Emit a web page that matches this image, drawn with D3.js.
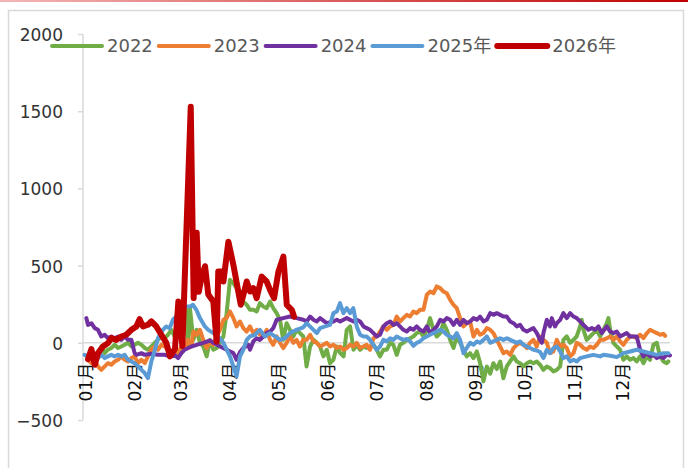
<!DOCTYPE html>
<html><head><meta charset="utf-8">
<script src="https://cdn.jsdelivr.net/npm/d3@7"></script>
<style>html,body{margin:0;padding:0;background:#fff;}svg{display:block;}</style>
</head><body><svg id="chart" width="688" height="468"></svg>
<script>
// ---- data (x = day of year, y = value) ----
const seriesNames = ["2022","2023","2024","2025年","2026年"];
const monthLabels = ["01月","02月","03月","04月","05月","06月","07月","08月","09月","10月","11月","12月"];
const monthStartDays = [0,31,59,90,120,151,181,212,243,273,304,334];
const yTicks = [-500,0,500,1000,1500,2000];

const s2022 = [[7.3,-88],[9.3,-78],[11.4,-24],[13.5,-67],[15.5,-45],[17.6,-34],[19.7,-13],[21.8,-34],[23.8,-24],[25.9,-13],[28,0],[30.1,-24],[32.1,-13],[34.2,0],[36.3,-13],[38.4,-34],[40.4,-45],[42.5,-24],[44.6,0],[46.6,19],[48.7,41],[50.8,30],[52.9,52],[54.9,84],[57,41],[59.1,127],[61.2,170],[63.2,84],[64.3,214],[65.3,-24],[66.5,224],[68.6,19],[70.7,84],[72.7,0],[74.8,-24],[76.9,-88],[79,19],[81,-45],[83.1,-34],[85.2,0],[87.3,41],[89.3,192],[91.4,408],[93.5,386],[95.5,354],[97.6,332],[99.7,267],[101.8,246],[103.8,214],[105.9,214],[108,203],[110,257],[112.1,235],[114.2,224],[116.3,267],[118.3,224],[120.4,192],[122.5,149],[124.5,19],[126.6,127],[128.7,84],[130.8,41],[132.8,84],[134.9,63],[137,41],[139,-153],[141.2,-24],[143.3,19],[145.4,0],[147.4,-24],[149.5,-88],[151.6,-45],[153.6,-132],[155.7,-110],[157.8,-24],[159.9,-67],[162,-88],[164,84],[166.1,106],[168.2,-45],[170.2,-13],[172.3,-45],[174.4,-24],[176.4,-34],[178.5,-24],[180.6,-13],[182.6,-45],[184.7,-88],[186.8,-45],[188.9,-45],[191,0],[193,-13],[195.1,-78],[197.1,-13],[199.2,0],[201.3,19],[203.4,30],[205.4,41],[207.5,63],[209.6,73],[211.7,41],[213.8,84],[215.8,160],[217.9,84],[220,41],[222.1,63],[224.1,127],[226.2,84],[228.3,19],[230.4,-34],[232.4,41],[234.5,0],[236.6,-45],[238.6,-88],[240.7,-67],[242.8,-99],[244.9,-56],[246.9,-130],[249,-250],[251.1,-153],[253.2,-200],[255.2,-132],[257.3,-170],[259.4,-121],[261.4,-230],[263.5,-153],[265.6,-121],[267.7,-88],[269.7,-121],[271.8,-132],[273.9,-153],[276,-132],[278,-121],[280.1,-132],[282.1,-121],[284.2,-142],[286.3,-175],[288.4,-153],[290.4,-164],[292.5,-185],[294.6,-175],[296.7,-153],[298.7,19],[300.8,41],[302.9,0],[305,19],[307,41],[309.1,106],[310.1,149],[311.2,84],[313.2,19],[315.3,41],[317.4,63],[319.5,84],[321.5,41],[323.6,84],[325.7,127],[326.7,160],[327.8,84],[329.8,0],[331.9,-24],[334,-45],[336,-110],[338.1,-88],[340.2,-110],[342.3,-99],[344.3,-121],[346.4,-88],[348.5,-132],[350.6,-88],[352.6,-110],[354.7,-13],[356.8,0],[358.8,-88],[360.9,-121],[363,-132],[364,-121]];

const s2023 = [[3.1,-110],[5.2,-132],[7.3,-110],[9.3,-153],[11.4,-175],[13.5,-153],[15.5,-132],[17.6,-142],[19.7,-121],[21.8,-110],[23.8,-88],[25.9,-110],[28,-121],[30.1,-99],[32.1,-88],[34.2,-132],[36.3,-110],[38.4,-132],[40.4,-88],[42.5,-45],[44.6,-24],[46.6,-45],[48.7,-13],[50.8,-24],[52.9,-45],[54.9,-78],[57,-45],[59.1,-67],[61.2,-24],[63.2,-34],[65.3,19],[67.4,-24],[68.6,73],[70.7,52],[72.7,84],[74.8,19],[76.9,-34],[79,9],[81,-13],[83.1,41],[85.2,84],[87.3,149],[89.3,160],[91.4,203],[93.5,160],[95.5,106],[97.6,138],[99.7,95],[101.8,73],[103.8,106],[105.9,63],[108,84],[110,52],[112.1,41],[114.2,84],[116.3,19],[118.3,-13],[120.4,41],[122.5,0],[124.5,-34],[126.6,0],[128.7,41],[130.8,0],[132.8,19],[134.9,-24],[137,20],[139.1,19],[141.2,52],[143.3,9],[145.4,0],[147.4,-24],[149.5,-13],[151.6,0],[153.6,-24],[155.7,-13],[157.8,-34],[159.9,-24],[162,-45],[164,-34],[166.1,-13],[168.2,-24],[170.2,0],[172.3,-34],[174.4,-24],[176.4,-13],[178.5,-45],[180.6,30],[182.6,41],[184.7,73],[186.8,106],[188.9,84],[191,106],[193,116],[195.1,170],[197.1,138],[199.2,160],[201.3,181],[203.4,170],[205.4,203],[207.5,192],[209.6,214],[211.7,214],[213.8,311],[215.8,332],[217.9,321],[220,365],[222.1,354],[224.1,332],[226.2,321],[228.3,278],[230.4,246],[232.4,224],[234.5,160],[236.6,106],[238.6,127],[240.7,138],[242.8,41],[244.9,84],[246.9,52],[249,63],[251.1,95],[253.2,84],[255.2,63],[257.3,19],[259.4,-24],[261.4,-67],[263.5,-56],[265.6,-78],[267.7,-34],[269.7,-13],[271.8,0],[273.9,-13],[276,-34],[278,0],[280.1,19],[282.1,-24],[284.2,41],[286.3,19],[288.4,0],[290.4,-67],[292.5,-56],[294.6,19],[296.7,-24],[298.7,-13],[300.8,-34],[302.9,-88],[305,-67],[307,0],[309.1,-13],[311.2,-34],[313.2,-45],[315.3,-24],[317.4,-34],[319.5,-13],[321.5,19],[323.6,19],[325.7,30],[327.8,41],[329.8,19],[331.9,41],[334,9],[336,-13],[338.1,19],[340.2,41],[342.3,41],[344.3,30],[346.4,52],[348.5,30],[350.6,63],[352.6,84],[354.7,73],[356.8,63],[358.8,52],[360.9,58],[362,45]];

const s2024 = [[2.1,160],[3.1,116],[5.2,127],[7.3,95],[9.3,84],[11.4,41],[13.5,52],[15.5,30],[17.6,41],[19.7,30],[21.8,41],[23.8,19],[25.9,41],[28,19],[30.1,19],[32.1,-67],[33.2,-78],[36.3,-67],[38.4,-78],[42.5,-71],[46.6,-78],[50.8,-78],[53.9,-88],[57,-78],[59.1,-99],[61.2,-67],[63.2,-45],[67.4,-24],[70.7,-13],[74.8,0],[79,15],[81,0],[85.2,-24],[89.3,-45],[93.5,-67],[95.5,-110],[97.6,-60],[99.7,-34],[102.8,-13],[103.8,-45],[105.9,9],[108,30],[110,19],[112.1,41],[114.2,63],[116.3,73],[118.3,95],[120.4,149],[124.5,160],[128.7,170],[132.8,160],[137,149],[139.1,138],[141.2,170],[143.3,149],[145.4,138],[147.4,160],[151.6,127],[155.7,138],[157.8,149],[159.9,138],[162,149],[164,160],[168.2,138],[170.2,149],[172.3,138],[174.4,106],[176.4,95],[178.5,84],[180.6,63],[182.6,41],[184.7,52],[186.8,106],[188.9,127],[191,138],[193,116],[195.1,127],[197.1,106],[199.2,84],[201.3,73],[203.4,95],[205.4,84],[207.5,106],[209.6,84],[211.7,73],[213.8,106],[215.8,63],[217.9,84],[220,106],[222.1,149],[224.1,138],[226.2,160],[228.3,149],[230.4,116],[232.4,149],[234.5,116],[236.6,149],[238.6,127],[240.7,138],[242.8,160],[244.9,149],[246.9,170],[249,138],[251.1,149],[253.2,192],[255.2,181],[257.3,192],[259.4,181],[261.4,170],[263.5,170],[265.6,138],[267.7,127],[269.7,106],[271.8,116],[273.9,84],[276,73],[278,84],[280.1,95],[282.2,63],[284.2,19],[285.3,0],[286.3,63],[288.4,149],[290.4,106],[291.5,160],[293.5,106],[294.6,127],[296.7,149],[298.7,192],[300.8,160],[302.9,192],[305,170],[307,160],[310.1,127],[312.2,106],[314.3,84],[316.4,95],[318.4,84],[320.5,106],[322.6,63],[325.7,106],[327.8,73],[329.8,63],[331.9,73],[334,41],[338.1,63],[340.2,41],[344.3,41],[346.4,-45],[348.5,-88],[350.6,-67],[352.6,-88],[354.7,-78],[356.8,-99],[358.8,-88],[360.9,-99],[363,-78],[365,-82]];

const s2025 = [[1,-78],[3.1,-88],[5.2,-78],[7.3,-110],[9.3,-99],[11.4,-78],[13.5,-99],[15.5,-88],[17.6,-78],[19.7,-88],[21.8,-78],[23.8,-88],[25.9,-78],[28,-110],[30.1,-121],[32.1,-132],[34.2,-153],[36.3,-175],[38.4,-196],[40.4,-229],[42.5,-120],[44.6,-50],[46.6,30],[49.7,84],[51.8,106],[53.9,95],[55.9,149],[58,170],[60.1,214],[63.2,235],[66.4,235],[68.4,246],[70.5,214],[72.7,160],[75.8,106],[77.9,84],[81,63],[84.1,41],[87.3,0],[91.4,-88],[93.5,-153],[95.5,-218],[97.6,-88],[99.7,-45],[101.8,19],[103.8,41],[106.9,52],[110,84],[113.1,41],[116.3,63],[119.4,41],[122.5,19],[125.6,30],[128.7,63],[132.8,84],[137,100],[139.1,127],[142.2,95],[145.4,63],[147.4,95],[150.5,106],[153.6,116],[155.7,192],[157.8,203],[159.8,257],[161.9,192],[164,224],[166.1,192],[168.1,224],[170.2,106],[172.3,52],[174.4,41],[176.4,41],[178.5,19],[180.6,-13],[182.6,-45],[184.7,-24],[186.8,19],[188.9,9],[191,30],[193,19],[195.1,41],[197.1,30],[199.2,19],[201.3,25],[203.4,10],[205.5,-20],[207.5,0],[209.6,9],[211.7,30],[213.8,41],[215.8,52],[217.9,63],[220,73],[222.1,84],[224.1,73],[226.2,52],[228.3,41],[230.4,30],[232.4,63],[234.5,19],[236.6,-67],[238.6,-34],[240.7,0],[242.8,-13],[244.9,9],[246.9,0],[249,19],[251.1,41],[253.2,0],[255.2,9],[257.3,19],[259.4,30],[261.4,19],[263.5,30],[265.6,19],[267.7,9],[269.7,0],[271.8,9],[273.9,-13],[276,-24],[278,-34],[280.1,-45],[282.2,-50],[284.2,-60],[286.3,-99],[288.4,-45],[290.4,-67],[292.5,-34],[294.6,-24],[296.7,-56],[298.7,-99],[300.8,-88],[302.9,-121],[305,-110],[307,-121],[309.1,-99],[313.2,-88],[317.4,-78],[321.5,-88],[323.6,-78],[327.8,-84],[331.9,-93],[336,-67],[340.2,-56],[344.3,-45],[348.5,-56],[352.6,-67],[356.8,-78],[360.9,-67],[364,-67]];

const s2026 = [[3.1,-106],[5.2,-41],[7.3,-142],[9.3,-67],[12.4,-24],[15.5,-2],[17.6,30],[20.7,19],[23.8,41],[26.9,52],[30.1,84],[33.2,106],[35.2,153],[37.3,106],[40.4,117],[42.5,138],[45.6,106],[48.7,52],[51.8,0],[54.1,-88],[57.2,-39],[59.3,267],[61.8,-20],[67,1529],[68.8,290],[70.7,712],[72,330],[73.8,430],[75.9,496],[77.9,313],[81,267],[83.1,8],[84.1,461],[86.2,461],[87.3,397],[90.4,655],[93.5,505],[96.6,330],[98.1,246],[99.7,310],[101.8,397],[103.9,332],[105.9,354],[108,289],[111.1,429],[114.2,397],[116.3,343],[118.8,289],[121.5,461],[124.6,558],[126.7,246],[129.8,214],[131.2,170]];

const seriesData = [s2022, s2023, s2024, s2025, s2026];
const colors = ["#70AD47","#ED7D31","#7030A0","#5B9BD5","#C00000"];
const widths = [4,4,4,4,6];

// ---- drawing ----
const svg = d3.select("#chart");
const defs = svg.append("defs");
const grad = defs.append("linearGradient").attr("id","topg").attr("x1","0").attr("x2","1");
grad.append("stop").attr("offset","0").attr("stop-color","#f4b6b6");
grad.append("stop").attr("offset","1").attr("stop-color","#c00000");
svg.append("rect").attr("x",0).attr("y",0).attr("width",688).attr("height",2).attr("fill","url(#topg)");
svg.append("rect").attr("x",8.5).attr("y",10.5).attr("width",675).attr("height",470)
  .attr("fill","none").attr("stroke","#d9d9d9").attr("stroke-width",1.5);

const x = d3.scaleLinear().domain([0,365]).range([83,670]);
const y = d3.scaleLinear().domain([-500,2000]).range([420,34]);
const font = "'DejaVu Sans','Noto Sans CJK SC',sans-serif";

// y axis
const yAxis = d3.axisLeft(y).tickValues(yTicks).tickSize(5).tickPadding(15).tickFormat(d => d < 0 ? "\u2212" + Math.abs(d) : d);
const ga = svg.append("g").attr("transform","translate(83,0)").call(yAxis);
ga.select(".domain").attr("stroke","#d9d9d9").attr("stroke-width",1.5).attr("d","M0,34V420");
ga.selectAll(".tick line").attr("stroke","#d9d9d9").attr("stroke-width",1.5);
ga.selectAll(".tick text").attr("font-family",font).attr("font-size",17).attr("fill","#333").attr("dy","0.38em");

// zero line (category axis)
svg.append("line").attr("x1",x(0)).attr("x2",x(365)).attr("y1",y(0)).attr("y2",y(0))
  .attr("stroke","#d9d9d9").attr("stroke-width",1.5);

// month labels via axis
const xAxis = d3.axisBottom(x).tickValues(monthStartDays).tickSize(0).tickFormat((d,i) => monthLabels[i]);
const gx = svg.append("g").attr("transform",`translate(0,${y(0)})`).call(xAxis);
gx.select(".domain").remove();
gx.selectAll(".tick text")
  .attr("font-family",font).attr("font-size",17).attr("fill","#111")
  .attr("text-anchor","end").attr("transform","translate(2,20) rotate(-90)")
  .attr("x",0).attr("y",0).attr("dy","0.36em");

// lines
const line = d3.line().x(d => x(d[0])).y(d => y(d[1]));
seriesData.forEach((s,i) => {
  svg.append("path").datum(s).attr("d",line).attr("fill","none")
    .attr("stroke",colors[i]).attr("stroke-width",widths[i])
    .attr("stroke-linejoin","round").attr("stroke-linecap","round");
});

// legend
let lx = 52;
const ly = 46;
seriesNames.forEach((name,i) => {
  svg.append("line").attr("x1",lx).attr("x2",lx+50).attr("y1",ly).attr("y2",ly)
    .attr("stroke",colors[i]).attr("stroke-width",widths[i]).attr("stroke-linecap","round");
  const t = svg.append("text").attr("x",lx+55).attr("y",ly).attr("dy","0.36em")
    .attr("font-family",font).attr("font-size",18).attr("fill","#595959").text(name);
  lx += 55 + t.node().getComputedTextLength() + 6;
});
</script></body></html>
